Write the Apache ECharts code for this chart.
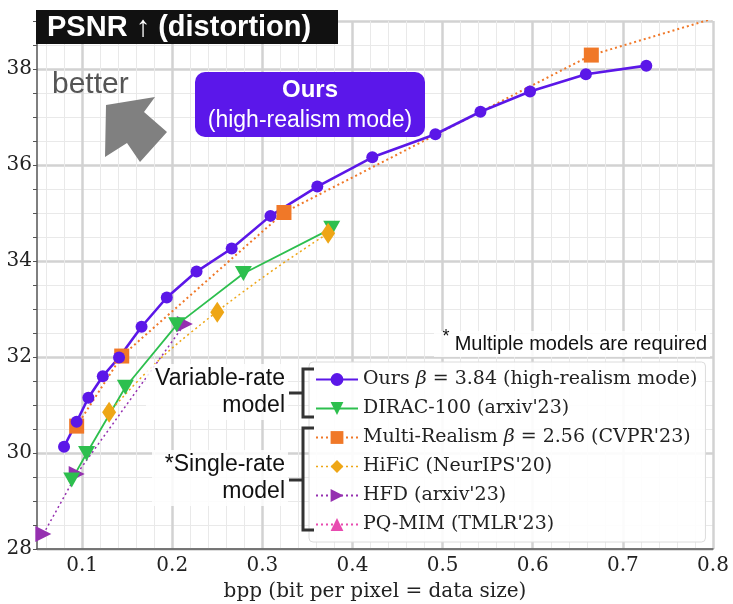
<!DOCTYPE html>
<html>
<head>
<meta charset="utf-8">
<script src="https://cdn.jsdelivr.net/npm/echarts@6/dist/echarts.min.js"></script>
<style>
  html, body { margin: 0; padding: 0; background: #fff; }
  #main { width: 733px; height: 604px; }
</style>
</head>
<body>
<div id="main"></div>
<script>
// bpp / PSNR
var oursBpp = [0.080, 0.094, 0.107, 0.123, 0.141, 0.166, 0.194, 0.227, 0.266, 0.309, 0.361, 0.422, 0.492, 0.542, 0.597, 0.659, 0.726]
var oursPsnr = [30.13, 30.65, 31.15, 31.60, 31.99, 32.63, 33.24, 33.78, 34.26, 34.94, 35.55, 36.16, 36.64, 37.11, 37.53, 37.89, 38.07]

var diracBpp = [0.0885, 0.105, 0.148, 0.205, 0.279, 0.377]
var diracPsnr = [29.44, 29.99, 31.37, 32.67, 33.74, 34.68]

var multiBpp = [0.094, 0.144, 0.324, 0.665]
var multiPsnr = [30.56, 32.02, 35.01, 38.29]
// dotted line keeps going past the last square
var multiTailBpp = [0.80]
var multiTailPsnr = [39.05]

var hificBpp = [0.130, 0.250, 0.373]
var hificPsnr = [30.85, 32.93, 34.58]
// the dotted HiFiC curve runs under the middle diamond
var hificCurveBpp = [0.130, 0.175, 0.220, 0.300, 0.373]
var hificCurvePsnr = [30.85, 31.75, 32.50, 33.65, 34.58]

var hfdBpp = [0.057, 0.094, 0.214]
var hfdPsnr = [28.31, 29.56, 32.69]

var pqBpp = []
var pqPsnr = []

var xTicks = ['0.1', '0.2', '0.3', '0.4', '0.5', '0.6', '0.7', '0.8']
var yTicks = ['28', '30', '32', '34', '36', '38']

var C_OURS = '#5b17e8'
var C_DIRAC = '#2dbf4e'
var C_MULTI = '#f07828'
var C_HIFIC = '#eea616'
var C_HFD = '#9530b0'
var C_PQ = '#e84bb0'

var MAJOR = '#d2d2d2'
var MINOR = '#e9e9e9'
var SERIF = 'DejaVu Serif'

function zip (xs, ys) {
  return xs.map(function (x, i) { return [x, ys[i]] })
}

var chart = echarts.init(document.getElementById('main'), null, { renderer: 'canvas' })

var option = {
  backgroundColor: '#fff',
  animation: false,
  grid: { left: 37, right: 20, top: 21, bottom: 55, outerBoundsMode: 'none', containLabel: false },
  xAxis: [
    {
      // minor grid every 0.02 and labels
      type: 'value', min: 0.05, max: 0.8, interval: 0.01,
      axisLine: { show: true, onZero: false, lineStyle: { color: '#555', width: 1.5 } },
      axisTick: { show: false },
      axisLabel: {
        margin: 7, fontFamily: SERIF, fontSize: 20, color: '#222',
        formatter: function (v) {
          var s = v.toFixed(1)
          return (Math.abs(v * 10 - Math.round(v * 10)) < 1e-6 && xTicks.indexOf(s) >= 0) ? s : ''
        }
      },
      splitLine: { show: true, lineStyle: { color: ['transparent', MINOR], width: 1 } },
      name: 'bpp (bit per pixel = data size)',
      nameLocation: 'middle',
      nameGap: 33,
      nameTextStyle: { fontFamily: SERIF, fontSize: 20, color: '#222' }
    },
    {
      // major grid every 0.1
      type: 'value', min: 0.05, max: 0.8, interval: 0.05, position: 'bottom',
      axisLine: { show: false }, axisTick: { show: false }, axisLabel: { show: false },
      splitLine: { show: true, lineStyle: { color: ['transparent', MAJOR], width: 2.5 } }
    }
  ],
  yAxis: [
    {
      type: 'value', min: 28, max: 39, interval: 0.5,
      axisLine: { show: true, onZero: false, lineStyle: { color: '#555', width: 1.5 } },
      axisTick: { show: true, length: 4, lineStyle: { color: '#555' } },
      axisLabel: {
        margin: 5, fontFamily: SERIF, fontSize: 20, color: '#222',
        formatter: function (v) {
          var s = String(v)
          return yTicks.indexOf(s) >= 0 ? s : ''
        }
      },
      splitLine: { show: true, lineStyle: { color: MINOR, width: 1 } }
    },
    {
      type: 'value', min: 28, max: 39, interval: 2, position: 'left',
      axisLine: { show: false }, axisTick: { show: false }, axisLabel: { show: false },
      splitLine: { show: true, lineStyle: { color: MAJOR, width: 2.5 } }
    }
  ],
  legend: {
    orient: 'vertical',
    left: 309,
    top: 362,
    padding: [8, 8, 8, 6],
    itemWidth: 42,
    itemHeight: 16,
    itemGap: 10,
    backgroundColor: 'rgba(255,255,255,0.9)',
    borderColor: '#dcdcdc',
    borderWidth: 1,
    borderRadius: 4,
    textStyle: {
      fontFamily: SERIF, fontSize: 19, color: '#222', lineHeight: 19,
      rich: {
        t: { fontFamily: SERIF, fontSize: 19, color: '#222' },
        b: { fontFamily: SERIF, fontSize: 19, color: '#222', fontStyle: 'italic' }
      }
    },
    formatter: function (name) {
      if (name.indexOf('β') < 0) return '{t|' + name + '}'
      var p = name.split('β')
      return '{t|' + p[0] + '}{b|β}{t|' + p[1] + '}'
    },
    data: [
      { name: 'Ours β = 3.84 (high-realism mode)' },
      { name: "DIRAC-100 (arxiv'23)" },
      { name: "Multi-Realism β = 2.56 (CVPR'23)" },
      { name: "HiFiC (NeurIPS'20)", lineStyle: { color: C_HIFIC, type: [2, 3], width: 1.5, opacity: 1 } },
      { name: "HFD (arxiv'23)" },
      { name: "PQ-MIM (TMLR'23)" }
    ]
  },
  series: [
    {
      name: "PQ-MIM (TMLR'23)", type: 'line', data: zip(pqBpp, pqPsnr),
      symbol: 'triangle', symbolSize: 16, color: C_PQ,
      lineStyle: { color: C_PQ, type: [2, 3], width: 1.5 }
    },
    {
      name: "HFD (arxiv'23)", type: 'line', data: zip(hfdBpp, hfdPsnr),
      symbol: 'triangle', symbolRotate: -90, symbolSize: 16, color: C_HFD,
      lineStyle: { color: C_HFD, type: [2, 3], width: 1.5 }
    },
    {
      name: 'DIRAC-100 (arxiv\'23)', type: 'line', data: zip(diracBpp, diracPsnr),
      symbol: 'triangle', symbolRotate: 180, symbolSize: [17, 15], color: C_DIRAC,
      lineStyle: { color: C_DIRAC, width: 1.8 }
    },
    {
      name: 'hific curve', type: 'line', data: zip(hificCurveBpp, hificCurvePsnr),
      symbol: 'none', smooth: 0.4, color: C_HIFIC,
      lineStyle: { color: C_HIFIC, type: [2, 3], width: 1.5 }
    },
    {
      name: "HiFiC (NeurIPS'20)", type: 'line', data: zip(hificBpp, hificPsnr),
      symbol: 'diamond', symbolSize: [14, 21], color: C_HIFIC,
      lineStyle: { color: C_HIFIC, opacity: 0 }
    },
    {
      name: "Multi-Realism β = 2.56 (CVPR'23)", type: 'line',
      data: zip(multiBpp, multiPsnr).concat(zip(multiTailBpp, multiTailPsnr).map(function (p) {
        return { value: p, symbol: 'none' }
      })),
      symbol: 'rect', symbolSize: 15, color: C_MULTI,
      lineStyle: { color: C_MULTI, type: [2, 3], width: 2 }
    },
    {
      name: 'Ours β = 3.84 (high-realism mode)', type: 'line', data: zip(oursBpp, oursPsnr),
      symbol: 'circle', symbolSize: 12, color: C_OURS,
      lineStyle: { color: C_OURS, width: 2.6 }
    }
  ],
  graphic: [
    // title tag
    { type: 'rect', z: 100, shape: { x: 36, y: 10, width: 302, height: 34 }, style: { fill: '#111' } },
    {
      type: 'text', z: 101, x: 47, y: 28,
      style: { text: 'PSNR ↑ (distortion)', fill: '#fff', font: 'bold 29px "Liberation Sans"', verticalAlign: 'middle' }
    },
    // better arrow
    {
      type: 'text', z: 50, x: 52, y: 85,
      style: { text: 'better', fill: '#555', font: '30px "Liberation Sans"', verticalAlign: 'middle' }
    },
    {
      type: 'polygon', z: 50,
      shape: { points: [[106, 105], [155, 97], [144, 112], [167, 132], [140, 162], [127, 143], [105, 157]] },
      style: { fill: '#808080' }
    },
    // Ours badge
    { type: 'rect', z: 50, shape: { x: 195, y: 72, width: 230, height: 65, r: 10 }, style: { fill: '#5b17ea' } },
    {
      type: 'text', z: 51, x: 310, y: 90,
      style: { text: 'Ours', fill: '#fff', font: 'bold 24px "Liberation Sans"', align: 'center', verticalAlign: 'middle' }
    },
    {
      type: 'text', z: 51, x: 310, y: 121,
      style: { text: '(high-realism mode)', fill: '#fff', font: '23px "Liberation Sans"', align: 'center', verticalAlign: 'middle' }
    },
    // note above legend
    { type: 'rect', z: 40, shape: { x: 434, y: 331, width: 276, height: 26 }, style: { fill: 'rgba(255,255,255,0.85)' } },
    {
      type: 'text', z: 51, x: 707, y: 344,
      style: { text: 'Multiple models are required', fill: '#111', font: '20px "Liberation Sans"', align: 'right', verticalAlign: 'middle' }
    },
    {
      type: 'text', z: 51, x: 446, y: 337,
      style: { text: '*', fill: '#111', font: '18px "Liberation Sans"', align: 'center', verticalAlign: 'middle' }
    },
    // group labels and brackets
    { type: 'rect', z: 40, shape: { x: 146, y: 364, width: 142, height: 56 }, style: { fill: 'rgba(255,255,255,0.85)' } },
    { type: 'rect', z: 40, shape: { x: 152, y: 450, width: 136, height: 56 }, style: { fill: 'rgba(255,255,255,0.85)' } },
    {
      type: 'text', z: 51, x: 285, y: 379,
      style: { text: 'Variable-rate', fill: '#111', font: '23px "Liberation Sans"', align: 'right', verticalAlign: 'middle' }
    },
    {
      type: 'text', z: 51, x: 285, y: 406,
      style: { text: 'model', fill: '#111', font: '23px "Liberation Sans"', align: 'right', verticalAlign: 'middle' }
    },
    {
      type: 'text', z: 51, x: 285, y: 465,
      style: { text: '*Single-rate', fill: '#111', font: '23px "Liberation Sans"', align: 'right', verticalAlign: 'middle' }
    },
    {
      type: 'text', z: 51, x: 285, y: 492,
      style: { text: 'model', fill: '#111', font: '23px "Liberation Sans"', align: 'right', verticalAlign: 'middle' }
    },
    {
      type: 'polyline', z: 60,
      shape: { points: [[314, 369], [303, 369], [303, 417], [314, 417]] },
      style: { stroke: '#333', lineWidth: 3, fill: null }
    },
    { type: 'line', z: 60, shape: { x1: 289, y1: 393, x2: 303, y2: 393 }, style: { stroke: '#333', lineWidth: 3 } },
    {
      type: 'polyline', z: 60,
      shape: { points: [[314, 428], [303, 428], [303, 530], [314, 530]] },
      style: { stroke: '#333', lineWidth: 3, fill: null }
    },
    { type: 'line', z: 60, shape: { x1: 289, y1: 480, x2: 303, y2: 480 }, style: { stroke: '#333', lineWidth: 3 } }
  ]
}

chart.setOption(option)
</script>
</body>
</html>
